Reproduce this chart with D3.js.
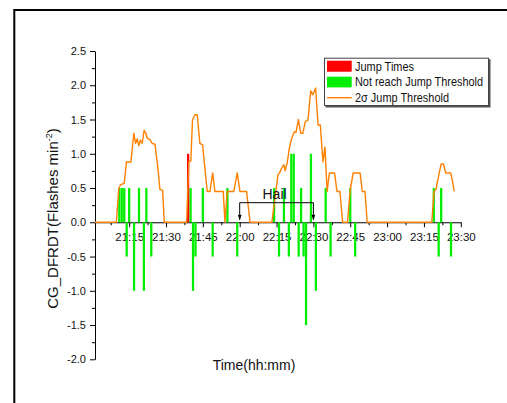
<!DOCTYPE html>
<html>
<head>
<meta charset="utf-8">
<script src="https://cdn.jsdelivr.net/npm/d3@7/dist/d3.min.js"></script>
<style>
  body { margin: 0; background: #fff; }
  text { font-family: "Liberation Sans", Arial, sans-serif; fill: #111; }
</style>
</head>
<body>
<div id="chart"></div>
<script>
// times are minutes after 21:00
var barTimes  = [11, 12, 13, 14, 15, 17, 19, 21, 22, 24,
                 40, 41, 42, 45, 49, 55, 59,
                 74, 76, 78, 80, 81, 82, 84, 85, 86, 87, 89, 91, 95, 97, 105, 107,
                 139, 141, 142, 146]
var barValues = [0.5, 0.5, 0.5, -0.5, 0.5, -1, 0.5, -1, 0.5, -0.5,
                 0.5, -1, -0.5, 0.5, -0.5, 0.5, -0.5,
                 0.5, -0.5, 0.5, -0.5, 1, 1, -0.5, 0.5, -0.5, -1.5, 1, -1, 0.5, -0.5, 0.5, -0.5,
                 0.5, -0.5, 0.5, -0.5]

var jumpTimes  = [39]
var jumpValues = [1.0]

var thrTimes = [1.1, 9.8, 10.8, 11.6, 13.0, 13.9, 15.7, 16.9, 17.6, 18.3, 18.9, 19.6, 20.3, 21.1, 21.8, 22.3, 23.4, 24.4, 25.5, 26.8, 27.5, 28.6, 29.3,
                38.4, 39.3, 40.1, 40.8, 41.8, 42.7, 43.8, 44.9, 45.8, 46.8, 47.9, 49.0, 49.9, 53.3, 54.0, 54.9, 57.6, 59.0, 60.1, 62.8, 64.2,
                73.1, 75.6, 76.2, 77.1, 78.0, 78.5, 79.3, 80.3, 81.2, 82.3, 82.9, 83.9, 84.8, 85.7, 86.7, 87.8, 88.9, 89.8, 90.9, 91.9, 92.8,
                93.9, 94.7, 95.6, 96.5, 98.6, 99.6, 100.8, 101.9, 103.9, 104.9, 106.2, 109.0, 109.9, 111.0, 111.9,
                138.2, 139.1, 139.9, 141.1, 142.0, 142.9, 143.9, 145.9, 146.6, 147.3]
var thrValues = [0, 0, 0.5, 0.55, 0.57, 0.88, 0.88, 1.3, 1.15, 1.22, 1.12, 1.2, 1.15, 1.34, 1.3, 1.23, 1.21, 1.15, 1.14, 0.76, 0.48, 0.47, 0,
                 0, 0.89, 0.89, 1.5, 1.57, 1.57, 1.15, 1.13, 0.8, 0.45, 0.45, 0.72, 0.45, 0.45, 0, 0.45, 0.45, 0.72, 0.45, 0.45, 0,
                 0, 0.7, 0.72, 0.79, 0.84, 0.75, 0.86, 1.1, 1.23, 1.32, 1.31, 1.5, 1.3, 1.3, 1.47, 1.49, 1.92, 1.86, 1.96, 1.42, 1.42,
                 0.88, 1.1, 0.45, 0.72, 0.72, 0.45, 0.45, 0, 0, 0.45, 0.72, 0.72, 0.45, 0.45, 0,
                 0, 0.45, 0.48, 0.7, 0.85, 0.85, 0.72, 0.72, 0.6, 0.45]

var xTickMinutes = [15, 30, 45, 60, 75, 90, 105, 120, 135, 150]
var xTickLabels  = ["21:15", "21:30", "21:45", "22:00", "22:15", "22:30", "22:45", "23:00", "23:15", "23:30"]
var yTickValues  = [-2, -1.5, -1, -0.5, 0, 0.5, 1, 1.5, 2, 2.5]
var yTickLabels  = ["-2.0", "-1.5", "-1.0", "-0.5", "0.0", "0.5", "1.0", "1.5", "2.0", "2.5"]

var hailStart = 60, hailEnd = 90

var legendNames = ["Jump Times", "Not reach Jump Threshold", "2\u03c3 Jump Threshold"]

var green = "#00ee00", red = "#ff0000", orange = "#ff8000"

var W = 507, H = 403

var svg = d3.select("#chart").append("svg")
    .attr("width", W)
    .attr("height", H)

// outer frame
svg.append("rect")
    .attr("x", 14.3).attr("y", 10)
    .attr("width", 600).attr("height", 500)
    .attr("fill", "none").attr("stroke", "#000").attr("stroke-width", 2)

var x = d3.scaleLinear().domain([1.1, 150]).range([95, 460.8])
var y = d3.scaleLinear().domain([-2, 2.5]).range([359.3, 51])

// y axis
svg.append("g")
    .attr("transform", "translate(" + x(1.1) + ",0)")
    .call(d3.axisLeft(y).tickValues(yTickValues)
      .tickFormat(function(d, i){ return yTickLabels[i] })
      .tickSize(5).tickPadding(4).tickSizeOuter(0))
    .call(function(g){ g.selectAll("text").style("font-size", "11px") })

// y minor ticks
svg.append("g")
    .attr("transform", "translate(" + x(1.1) + ",0)")
    .call(d3.axisLeft(y).tickValues(yTickValues.slice(0, -1).map(function(d){ return d + 0.25 }))
      .tickFormat("").tickSize(3).tickSizeOuter(0))
    .call(function(g){ g.select(".domain").remove() })

// x axis
svg.append("g")
    .attr("transform", "translate(0," + y(0) + ")")
    .call(d3.axisBottom(x).tickValues(xTickMinutes)
      .tickFormat(function(d, i){ return xTickLabels[i] })
      .tickSize(5).tickPadding(6).tickSizeOuter(0))
    .call(function(g){ g.selectAll("text").style("font-size", "11.5px") })

// x minor ticks
svg.append("g")
    .attr("transform", "translate(0," + y(0) + ")")
    .call(d3.axisBottom(x).tickValues(xTickMinutes.map(function(d){ return d - 7.5 }))
      .tickFormat("").tickSize(3).tickSizeOuter(0))
    .call(function(g){ g.select(".domain").remove() })

var bw = (x(1) - x(0)) * 0.92

// threshold line (under bars at baseline)
var line = d3.line()
    .x(function(d){ return x(d[0]) })
    .y(function(d){ return y(d[1]) })

var thrData = thrTimes.map(function(t, i){ return [t, thrValues[i]] })

// green bars
svg.selectAll("rect.green")
  .data(barTimes.map(function(t, i){ return {t: t, v: barValues[i]} }))
  .enter().append("rect")
    .attr("class", "green")
    .attr("x", function(d){ return x(d.t) - bw / 2 })
    .attr("y", function(d){ return y(Math.max(0, d.v)) })
    .attr("width", bw)
    .attr("height", function(d){ return Math.abs(y(d.v) - y(0)) })
    .attr("fill", green)

// red bars
svg.selectAll("rect.red")
  .data(jumpTimes.map(function(t, i){ return {t: t, v: jumpValues[i]} }))
  .enter().append("rect")
    .attr("class", "red")
    .attr("x", function(d){ return x(d.t) - bw / 2 })
    .attr("y", function(d){ return y(Math.max(0, d.v)) })
    .attr("width", bw)
    .attr("height", function(d){ return Math.abs(y(d.v) - y(0)) })
    .attr("fill", red)

svg.append("path")
    .datum(thrData)
    .attr("d", line)
    .attr("fill", "none")
    .attr("stroke", orange)
    .attr("stroke-width", 1.4)
    .attr("stroke-linejoin", "round")

// Hail bracket
var hy = 202.7
svg.append("path")
    .attr("d", "M" + x(hailStart) + "," + (y(0) - 3) + "V" + hy + "H" + x(hailEnd) + "V" + (y(0) - 3))
    .attr("fill", "none").attr("stroke", "#000").attr("stroke-width", 1)
;[hailStart, hailEnd].forEach(function(t){
  var cx = x(t), by = y(0) - 1.5
  svg.append("path")
    .attr("d", "M" + (cx - 1.8) + "," + (by - 6) + "L" + (cx + 1.8) + "," + (by - 6) + "L" + cx + "," + by + "Z")
    .attr("fill", "#000")
})
svg.append("text")
    .attr("x", x((hailStart + hailEnd) / 2) - 2)
    .attr("y", 198.5)
    .attr("text-anchor", "middle")
    .style("font-size", "14px")
    .text("Hail")

// axis titles
svg.append("text")
    .attr("x", 254).attr("y", 370)
    .attr("text-anchor", "middle")
    .style("font-size", "14px")
    .text("Time(hh:mm)")

var yt = svg.append("text")
    .attr("transform", "translate(58,218.5) rotate(-90)")
    .attr("text-anchor", "middle")
    .style("font-size", "15px")
yt.append("tspan").text("CG_DFRDT(Flashes min")
yt.append("tspan").attr("dy", -6).style("font-size", "9px").text("-2")
yt.append("tspan").attr("dy", 6).text(")")

// legend
var lg = svg.append("g").attr("transform", "translate(324,57.7)")
lg.append("rect").attr("x", 1.5).attr("y", 1.5).attr("width", 165).attr("height", 48.3).attr("fill", "#555")
lg.append("rect").attr("x", 0.5).attr("y", 0.5).attr("width", 164).attr("height", 47.3)
    .attr("fill", "#fff").attr("stroke", "#444").attr("stroke-width", 1)
lg.append("rect").attr("x", 3).attr("y", 3).attr("width", 24.7).attr("height", 11).attr("fill", red)
lg.append("rect").attr("x", 3).attr("y", 19).attr("width", 24.7).attr("height", 10.7).attr("fill", green)
lg.append("line").attr("x1", 3).attr("x2", 27.7).attr("y1", 40).attr("y2", 40)
    .attr("stroke", orange).attr("stroke-width", 1.4)
var legendWidths = [59, 128, 94]
lg.selectAll("text.leg")
  .data(legendNames)
  .enter().append("text")
    .attr("class", "leg")
    .attr("x", 31)
    .attr("y", function(d, i){ return 13.3 + i * 15.5 })
    .attr("textLength", function(d, i){ return legendWidths[i] })
    .attr("lengthAdjust", "spacingAndGlyphs")
    .style("font-size", "12.5px")
    .text(function(d){ return d })
</script>
</body>
</html>
